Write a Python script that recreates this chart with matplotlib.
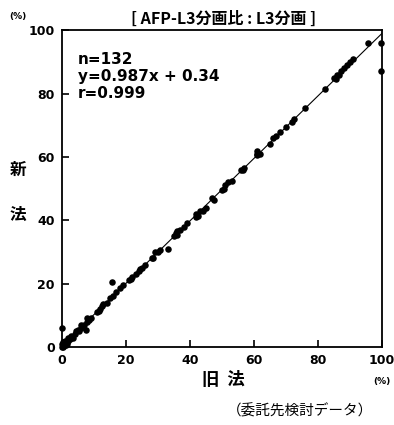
import numpy as np
import matplotlib.pyplot as plt

# 旧法 (x) vs 新法 (y), AFP-L3 fraction (%)
old = [0, 0, 0.3, 0.5, 0.8, 1, 1, 1.5, 2, 2, 2.5, 0, 0.5, 1.2,
       3, 3.5, 4, 4.5, 5, 5.5, 6, 6, 6.5, 7, 7.5, 8, 8, 8.5, 9,
       11, 11.5, 12, 12.5, 13, 14, 15, 15.5, 16, 17, 18, 19, 21, 21.5, 22,
       23, 24, 24.5, 25, 26, 28, 28.5, 29, 30, 30.5, 33,
       35, 35.5, 36, 36, 37, 38, 39,
       42, 42, 42.5, 43, 44, 45,
       47, 47.5, 50, 50.5, 51, 52, 53,
       56, 56.5, 57, 61, 61, 61, 62,
       65, 66, 67, 68, 70, 72, 72.5,
       76, 82,
       85, 85.5, 86, 86.5, 87, 88, 89, 90, 91,
       95.5, 99.5, 99.5]
new = [0, 1, 0.5, 0, 1.5, 0.5, 2, 1, 2, 3, 2.5, 6, 1.5, 0.5,
       3.5, 3, 4, 5, 5.5, 5, 6, 7, 6.5, 7, 5.5, 8, 9, 8.5, 9,
       11, 11.5, 12, 13, 13.5, 14, 15.5, 20.5, 16, 17.5, 18.5, 19.5, 21, 21.5, 22,
       23, 24, 24.5, 25, 26, 28, 28, 30, 30, 30.5, 31,
       35, 36, 36.5, 35.5, 37, 38, 39,
       42, 41, 41.5, 43, 43, 44,
       47, 46.5, 49.5, 50, 51, 52, 52.5,
       56, 56, 56.5, 60.5, 61, 62, 61,
       64, 66, 66.5, 68, 69.5, 71, 72,
       75.5, 81.5,
       85, 84.5, 86, 86, 87, 88, 89, 90, 91,
       96, 96, 87]

slope, icpt = 0.987, 0.34
ticks = [0, 20, 40, 60, 80, 100]

jp = ['Noto Sans CJK JP', 'DejaVu Sans']

fig = plt.figure(figsize=(3.94, 4.25), dpi=100)
ax = fig.add_axes([0.157, 0.1835, 0.813, 0.7455])

xs = np.array([0, 100])
ax.plot(xs, slope * xs + icpt, color='black', lw=0.8, zorder=2)
ax.scatter(old, new, s=22, color='black', zorder=3, clip_on=False, linewidths=0)

ax.set_xlim(0, 100)
ax.set_ylim(0, 100)
ax.set_xticks(ticks)
ax.set_yticks(ticks)
ax.tick_params(direction='in', length=5, width=1.2, labelsize=9, pad=5)
for lab in ax.get_xticklabels() + ax.get_yticklabels():
    lab.set_fontweight('bold')
for sp in ax.spines.values():
    sp.set_linewidth(1.3)

ax.text(0.05, 0.93, 'n=132\ny=0.987x + 0.34\nr=0.999', transform=ax.transAxes,
        fontsize=11, fontweight='bold', va='top', ha='left', linespacing=1.15)

fig.text(0.567, 0.957, '[ AFP-L3分画比 : L3分画 ]', family=jp, fontsize=11.5,
         fontweight='bold', ha='center', va='center')
fig.text(0.045, 0.962, '(%)', fontsize=6.5, fontweight='bold', ha='center', va='center')
fig.text(0.97, 0.103, '(%)', fontsize=6.5, fontweight='bold', ha='center', va='center')
fig.text(0.046, 0.6, '新', family=jp, fontsize=12, fontweight='bold', ha='center', va='center')
fig.text(0.046, 0.495, '法', family=jp, fontsize=12, fontweight='bold', ha='center', va='center')
fig.text(0.568, 0.105, '旧  法', family=jp, fontsize=12.5, fontweight='bold', ha='center', va='center')
fig.text(0.761, 0.033, '（委託先検討データ）', family=jp, fontsize=10.5, ha='center', va='center')

fig.savefig('out.png', dpi=100)
